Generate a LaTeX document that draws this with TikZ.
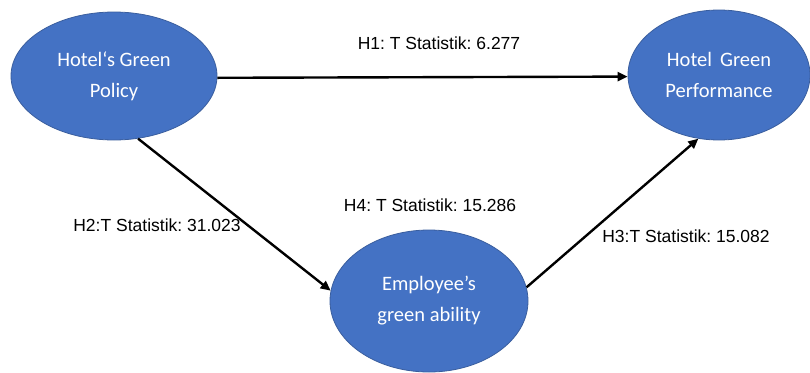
\documentclass[tikz,border=0pt]{standalone}
\usepackage{fontspec}
\setmainfont{Liberation Sans}
\newfontfamily\boxfont{Carlito}
\usetikzlibrary{shapes.geometric,arrows.meta}
\definecolor{constructfill}{HTML}{4472C4}
\definecolor{constructline}{HTML}{3A5E9E}
\frenchspacing
\tikzset{
  construct/.style={ellipse, draw=constructline, line width=0.8pt, fill=constructfill,
    text=white, align=center, inner sep=0pt,
    font=\boxfont\fontsize{20.5}{31}\selectfont},
  path/.style={line width=2.4pt, -{Triangle[length=10pt,width=9pt]}},
  stat/.style={font=\fontsize{17.5}{20}\selectfont, text=black, inner sep=0pt}
}
\begin{document}
\begin{tikzpicture}[x=1pt,y=-1pt]
  \useasboundingbox (0,0) rectangle (810,372);
  \fill[white] (0,0) rectangle (810,372);

  % latent constructs
  \node[construct, minimum width=206pt, minimum height=128pt] (pol) at (114,76)
    {Hotel\textquoteleft s Green\\Policy};
  \node[construct, minimum width=182pt, minimum height=130pt] (perf) at (719,75)
    {Hotel\, Green\\Performance};
  \node[construct, minimum width=198pt, minimum height=142pt] (emp) at (429,301)
    {Employee\textquoteright s\\green ability};

  % structural paths
  \draw[path] (pol.-1) -- (perf.181);
  \draw[path] (pol.-69) -- (emp.174);
  \draw[path] (emp.8) -- (perf.-108);

  % path statistics
  \node[stat] (h1) at (439,43) {H1: T Statistik: 6.277};
  \node[stat] (h2) at (157,225) {H2:T Statistik: 31.023};
  \node[stat] (h3) at (686,236) {H3:T Statistik: 15.082};
  \node[stat] (h4) at (430,205) {H4: T Statistik: 15.286};
\end{tikzpicture}
\end{document}
